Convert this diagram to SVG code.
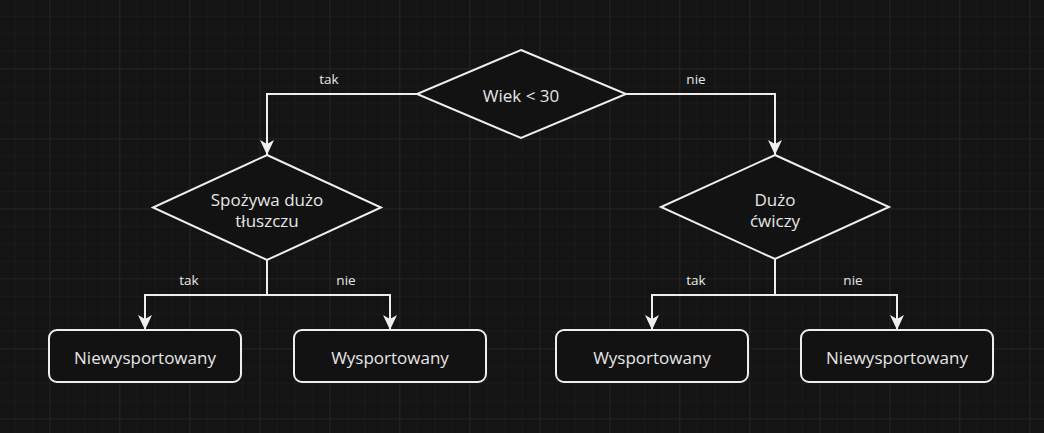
<svg xmlns="http://www.w3.org/2000/svg" width="1044" height="433" viewBox="0 0 1044 433">
<defs>
<pattern id="minor" width="17.5" height="17.5" patternUnits="userSpaceOnUse" x="-3.2" y="-1.7">
<path d="M0 0H17.5M0 0V17.5" fill="none" stroke="#1f1f1f" stroke-width="1"/>
</pattern>
<pattern id="major" width="70" height="70" patternUnits="userSpaceOnUse" x="49.3" y="68.3">
<path d="M0 0H70M0 0V70" fill="none" stroke="#2c2c2c" stroke-width="1"/>
</pattern>
<marker id="arr" markerUnits="userSpaceOnUse" viewBox="0 0 15 14" refX="15" refY="7" markerWidth="15" markerHeight="14" orient="auto">
<path d="M0,0 L15,7 L0,14 L4,7 Z" fill="#eeeeee"/>
</marker>
<style>
.shape{fill:#121212;stroke:#eeeeee;stroke-width:2}
.edge{fill:none;stroke:#eeeeee;stroke-width:2;marker-end:url(#arr)}
.t{font-family:"Open Sans","Noto Sans",sans-serif;font-size:17px;fill:#e6e6e6;text-anchor:middle}
.lbl{font-family:"Open Sans","Noto Sans",sans-serif;font-size:13.5px;fill:#e6e6e6;text-anchor:middle}
</style>
</defs>
<rect width="1044" height="433" fill="#141414"/>
<rect width="1044" height="433" fill="url(#minor)"/>
<rect width="1044" height="433" fill="url(#major)"/>

<g id="connectors">
<path class="edge" d="M417,94 H267 V155"/>
<path class="edge" d="M626,94 H775 V155"/>
<path class="edge" d="M267,260 V295 H145 V330"/>
<path class="edge" d="M267,260 V295 H390 V330"/>
<path class="edge" d="M775,259 V295 H652 V330"/>
<path class="edge" d="M775,259 V295 H897 V330"/>
<text class="lbl" x="329" y="84">tak</text>
<text class="lbl" x="696" y="84">nie</text>
<text class="lbl" x="189" y="285">tak</text>
<text class="lbl" x="346" y="285">nie</text>
<text class="lbl" x="696" y="285">tak</text>
<text class="lbl" x="853" y="285">nie</text>
</g>

<g id="wiek">
<polygon class="shape" points="521,50 626,94 521,138 417,94"/>
<text class="t" x="521" y="102">Wiek &lt; 30</text>
</g>
<g id="tluszcz">
<polygon class="shape" points="267,155 381,207.5 267,260 153,207.5"/>
<text class="t" x="267" y="205.5">Spożywa dużo</text>
<text class="t" x="267" y="226.5">tłuszczu</text>
</g>
<g id="cwiczy">
<polygon class="shape" points="775,155 889,207 775,259 661,207"/>
<text class="t" x="775" y="205.5">Dużo</text>
<text class="t" x="775" y="226.5">ćwiczy</text>
</g>
<g id="box1">
<rect class="shape" x="49" y="330" width="192" height="52" rx="8"/>
<text class="t" x="145" y="364">Niewysportowany</text>
</g>
<g id="box2">
<rect class="shape" x="294" y="330" width="192" height="52" rx="8"/>
<text class="t" x="390" y="364">Wysportowany</text>
</g>
<g id="box3">
<rect class="shape" x="556" y="330" width="192" height="52" rx="8"/>
<text class="t" x="652" y="364">Wysportowany</text>
</g>
<g id="box4">
<rect class="shape" x="801" y="330" width="192" height="52" rx="8"/>
<text class="t" x="897" y="364">Niewysportowany</text>
</g>
</svg>
